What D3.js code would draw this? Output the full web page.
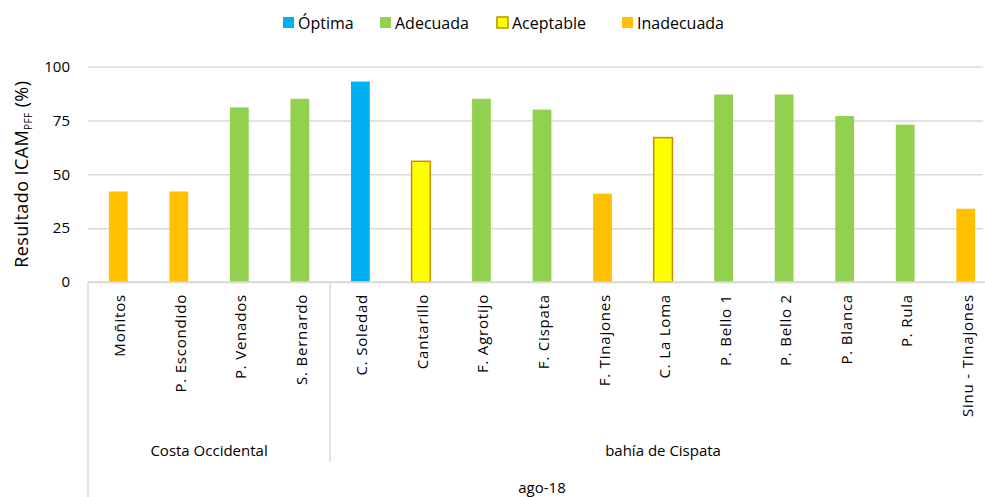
<!DOCTYPE html>
<html>
<head>
<meta charset="utf-8">
<script src="https://cdn.jsdelivr.net/npm/d3@7"></script>
<style>
  html, body { margin: 0; padding: 0; background: #fff; overflow: hidden; }
  svg { display: block; font-family: "Open Sans", sans-serif; }
</style>
</head>
<body>
<svg id="chart" width="985" height="497"></svg>
<script>
// Sampling sites, August 2018
const categories = ["Moñitos", "P. Escondido", "P. Venados", "S. Bernardo", "C. Soledad",
  "Cantarillo", "F. Agrotijo", "F. Cispata", "F. Tinajones", "C. La Loma",
  "P. Bello 1", "P. Bello 2", "P. Blanca", "P. Rula", "Sinu - Tinajones"];
// ICAM_PFF result (%)
const values = [42, 42, 81, 85, 93, 56, 85, 80, 41, 67, 87, 87, 77, 73, 34];
// Quality class of each site
const classes = ["Inadecuada", "Inadecuada", "Adecuada", "Adecuada", "Óptima",
  "Aceptable", "Adecuada", "Adecuada", "Inadecuada", "Aceptable",
  "Adecuada", "Adecuada", "Adecuada", "Adecuada", "Inadecuada"];
const legendClasses = ["Óptima", "Adecuada", "Aceptable", "Inadecuada"];
const groupNames = ["Costa Occidental", "bahía de Cispata"];
const groupSizes = [4, 11];
const periodLabel = "ago-18";
const yTicks = [0, 25, 50, 75, 100];

const fills = { "Óptima": "#00B0F0", "Adecuada": "#92D050", "Aceptable": "#FFFF00", "Inadecuada": "#FFC000" };
const strokes = { "Aceptable": "#BF9000" };

const svg = d3.select("#chart");
const W = 985, H = 497;
const plot = { left: 88, right: 996, top: 66.5, bottom: 282 };
const gridColor = "#D9D9D9";

const x = d3.scaleBand().domain(categories).range([plot.left, plot.right]).padding(0);
const y = d3.scaleLinear().domain([0, 100]).range([plot.bottom, plot.top]);
const barW = x.bandwidth() * 0.31;

// Gridlines and value labels
const yAxis = d3.axisLeft(y).tickValues(yTicks).tickSize(-(W - 2 - plot.left)).tickPadding(18);
const gy = svg.append("g").attr("transform", `translate(${plot.left},0)`).call(yAxis);
gy.select(".domain").remove();
gy.selectAll(".tick line").attr("stroke", gridColor).attr("stroke-width", 1.5);
gy.selectAll(".tick text").attr("fill", "#000").attr("font-size", 15).attr("font-family", "'Open Sans', sans-serif");

// Bars
svg.append("g").selectAll("rect").data(categories).join("rect")
  .attr("x", (d) => x(d) + (x.bandwidth() - barW) / 2)
  .attr("y", (d, i) => y(values[i]))
  .attr("width", barW)
  .attr("height", (d, i) => y(0) - y(values[i]))
  .attr("fill", (d, i) => fills[classes[i]])
  .attr("stroke", (d, i) => strokes[classes[i]] || "none")
  .attr("stroke-width", 1.5);

// Category axis line
svg.append("line").attr("x1", plot.left).attr("x2", W).attr("y1", plot.bottom).attr("y2", plot.bottom)
  .attr("stroke", gridColor).attr("stroke-width", 1.5);

// Rotated site names
svg.append("g").selectAll("text").data(categories).join("text")
  .attr("transform", (d) => `translate(${x(d) + x.bandwidth() / 2 + 7},${plot.bottom + 12}) rotate(-90)`)
  .attr("text-anchor", "end")
  .attr("font-size", 15)
  .attr("letter-spacing", 0.8)
  .attr("fill", "#000")
  .text((d) => d);

// Group separators and labels
const sepBottom = 462;
svg.append("line").attr("x1", plot.left).attr("x2", plot.left).attr("y1", plot.bottom).attr("y2", H)
  .attr("stroke", gridColor).attr("stroke-width", 1.5);
let idx = 0;
groupNames.forEach((g, gi) => {
  const first = categories[idx];
  idx += groupSizes[gi];
  const last = categories[idx - 1];
  const gx0 = x(first), gx1 = x(last) + x.bandwidth();
  if (idx < categories.length) {
    svg.append("line").attr("x1", gx1).attr("x2", gx1).attr("y1", plot.bottom).attr("y2", sepBottom)
      .attr("stroke", gridColor).attr("stroke-width", 1.5);
  }
  svg.append("text").attr("x", (gx0 + gx1) / 2).attr("y", 456)
    .attr("text-anchor", "middle").attr("font-size", 15).attr("fill", "#000").text(g);
});
svg.append("text").attr("x", (plot.left + plot.right) / 2).attr("y", 493)
  .attr("text-anchor", "middle").attr("font-size", 15).attr("fill", "#000").text(periodLabel);

// Y axis title with subscript
const yt = svg.append("text")
  .attr("transform", `translate(28,${(plot.top + plot.bottom) / 2}) rotate(-90)`)
  .attr("text-anchor", "middle").attr("font-size", 18).attr("letter-spacing", 0.4).attr("fill", "#000");
yt.append("tspan").text("Resultado ICAM");
yt.append("tspan").attr("font-size", 10).attr("dy", 4).text("PFF");
yt.append("tspan").attr("dy", -4).text(" (%)");

// Legend
const legendX = [283, 380, 497, 622];
const lg = svg.append("g");
legendClasses.forEach((c, i) => {
  const g = lg.append("g").attr("transform", `translate(${legendX[i]},17)`);
  g.append("rect").attr("width", 11).attr("height", 11)
    .attr("fill", fills[c]).attr("stroke", strokes[c] || "none").attr("stroke-width", 1.5);
  g.append("text").attr("x", 15).attr("y", 11.5).attr("font-size", 16).attr("fill", "#000").text(c);
});
</script>
</body>
</html>
